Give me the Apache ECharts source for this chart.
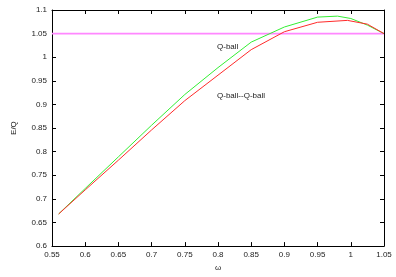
<!DOCTYPE html>
<html>
<head>
<meta charset="utf-8">
<script src="https://cdn.jsdelivr.net/npm/echarts@6/dist/echarts.min.js"></script>
<style>html,body{margin:0;padding:0;background:#fff}#c{width:396px;height:277px}</style>
</head>
<body>
<div id="c"></div>
<script>
const qballOmega = [0.56, 0.6, 0.65, 0.7, 0.75, 0.8, 0.85, 0.9, 0.95, 0.98, 1.0, 1.025, 1.05];
const qballE     = [0.668, 0.722, 0.789, 0.856, 0.921, 0.978, 1.032, 1.064, 1.085, 1.087, 1.082, 1.068, 1.05];
const pairOmega  = [0.56, 0.6, 0.65, 0.7, 0.75, 0.8, 0.85, 0.9, 0.95, 0.995, 1.025, 1.05];
const pairE      = [0.668, 0.719, 0.782, 0.846, 0.908, 0.962, 1.016, 1.054, 1.074, 1.078, 1.070, 1.05];
const refLevel   = 1.05;
const xRange     = [0.55, 1.05];
const yRange     = [0.6, 1.1];
const xLabel = 'ω', yLabel = 'E/Q';
const label1 = 'Q-ball', label2 = 'Q-ball--Q-ball';

const fmt = v => String(+v.toFixed(2));
const chart = echarts.init(document.getElementById('c'));
const font = {fontFamily: 'Liberation Sans, Arial, sans-serif', fontSize: 8, color: '#222'};
const axisCommon = {
  type: 'value', interval: 0.05,
  axisLine: {show: true, onZero: false, lineStyle: {color: '#000', width: 1}},
  axisTick: {show: true, inside: true, length: 4, lineStyle: {color: '#000'}},
  splitLine: {show: false}
};
chart.setOption({
  animation: false,
  grid: {left: 52, right: 12, top: 10, bottom: 26},
  xAxis: [
    Object.assign({}, axisCommon, {min: xRange[0], max: xRange[1], position: 'bottom',
      axisLabel: Object.assign({formatter: fmt, margin: 5}, font),
      name: xLabel, nameLocation: 'middle', nameGap: 17, nameTextStyle: font}),
    Object.assign({}, axisCommon, {min: xRange[0], max: xRange[1], position: 'top', axisLabel: {show: false}})
  ],
  yAxis: [
    Object.assign({}, axisCommon, {min: yRange[0], max: yRange[1], position: 'left',
      axisLabel: Object.assign({formatter: fmt, margin: 5}, font),
      name: yLabel, nameLocation: 'middle', nameGap: 34, nameRotate: 90, nameTextStyle: font}),
    Object.assign({}, axisCommon, {min: yRange[0], max: yRange[1], position: 'right', axisLabel: {show: false}})
  ],
  series: [
    {type: 'line', data: [[xRange[0], refLevel], [xRange[1], refLevel]], symbol: 'none',
      color: '#ff88ff', itemStyle: {color: '#ff88ff'},
      lineStyle: {color: '#ff88ff', width: 1.6, opacity: 1}, z: 1},
    {type: 'line', data: qballOmega.map((x, i) => [x, qballE[i]]), symbol: 'none',
      color: '#33ee33', lineStyle: {color: '#33ee33', width: 1}, z: 2},
    {type: 'line', data: pairOmega.map((x, i) => [x, pairE[i]]), symbol: 'none',
      color: '#ff2a2a', lineStyle: {color: '#ff2a2a', width: 1}, z: 3}
  ],
  graphic: [
    {type: 'text', left: 217, top: 43, style: {text: label1, fill: '#222', font: '8px Liberation Sans, Arial, sans-serif'}},
    {type: 'text', left: 217, top: 92, style: {text: label2, fill: '#222', font: '8px Liberation Sans, Arial, sans-serif'}}
  ]
});
</script>
</body>
</html>
